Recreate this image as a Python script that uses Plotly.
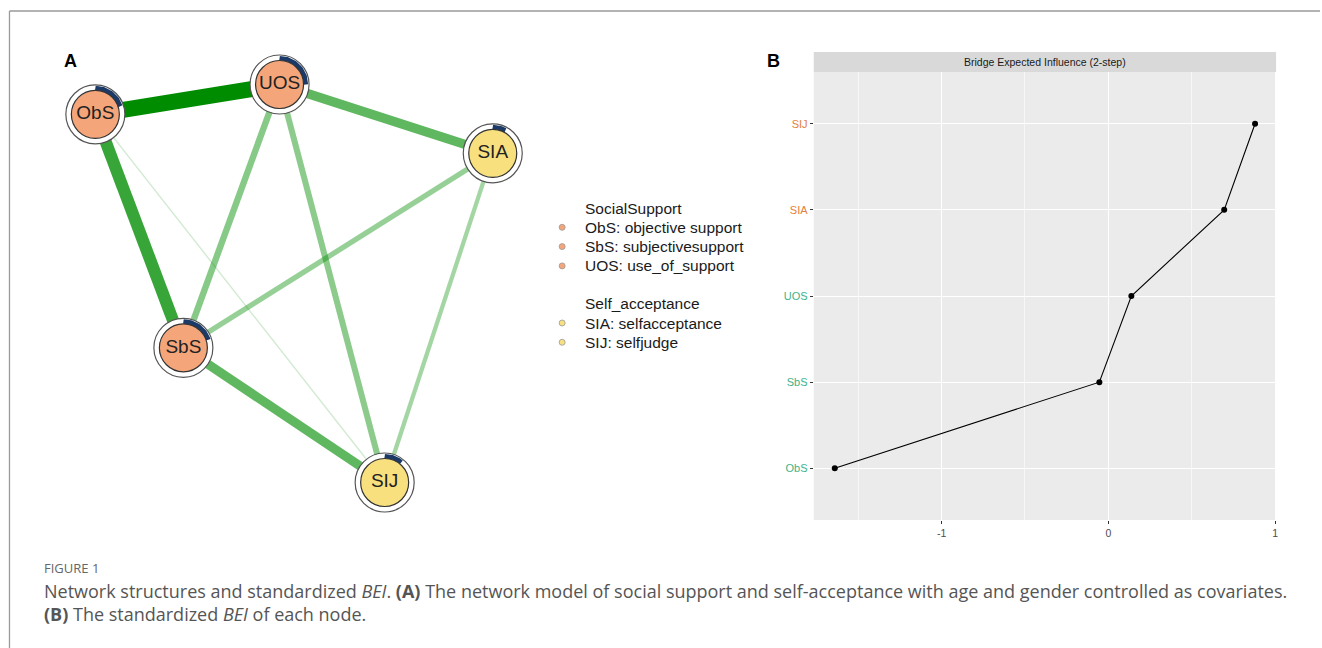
import numpy as np
import plotly.graph_objects as go

# ---------------- data ----------------
node_names = ["ObS", "UOS", "SIA", "SbS", "SIJ"]
node_group = ["SocialSupport", "SocialSupport", "Self_acceptance", "SocialSupport", "Self_acceptance"]
# network layout coordinates (qgraph-style, -1..1)
layout_x = [-1.0, -0.073, 1.0, -0.557, 0.456]
layout_y = [0.850, 1.0, 0.654, -0.323, -1.0]
# predictability pies
pie_values = [0.20, 0.25, 0.08, 0.20, 0.11]

edge_from = ["ObS", "ObS", "UOS", "SbS", "UOS", "UOS", "SIA", "SIA", "ObS"]
edge_to = ["UOS", "SbS", "SIA", "SIJ", "SbS", "SIJ", "SbS", "SIJ", "SIJ"]
edge_weight = [0.45, 0.34, 0.26, 0.26, 0.18, 0.17, 0.15, 0.12, 0.03]

legend_groups = ["SocialSupport", "Self_acceptance"]
legend_items = {
    "SocialSupport": ["ObS: objective support", "SbS: subjectivesupport", "UOS: use_of_support"],
    "Self_acceptance": ["SIA: selfacceptance", "SIJ: selfjudge"],
}

bei_nodes = ["ObS", "SbS", "UOS", "SIA", "SIJ"]
bei_values = [-1.641, -0.054, 0.138, 0.695, 0.880]
bei_label_group = ["SocialSupport", "SocialSupport", "SocialSupport", "Self_acceptance", "Self_acceptance"]
x_ticks = [-1, 0, 1]

# ---------------- styles ----------------
W, H = 1322, 648
group_fill = {"SocialSupport": "#F4A67A", "Self_acceptance": "#F8E07F"}
label_color = {"SocialSupport": "#3DB38A", "Self_acceptance": "#E57E3A"}
PX = 199.0  # pixels per layout unit
cx_px, cy_px = 294.5, 283.5
rng = 1.35

def px2paper_x(p):
    return p / W

def px2paper_y(p):
    return 1 - p / H

fig = go.Figure()

# ---------------- panel A: network ----------------
idx = {n: i for i, n in enumerate(node_names)}
wmax = max(edge_weight)
order = np.argsort(edge_weight)
for k in order:
    a, b, w = idx[edge_from[k]], idx[edge_to[k]], edge_weight[k]
    r = w / wmax
    alpha = 0.12 + 0.88 * r
    width = max(1.4, 16 * r)
    fig.add_trace(go.Scatter(
        x=[layout_x[a], layout_x[b]], y=[layout_y[a], layout_y[b]],
        mode="lines", line=dict(color=f"rgba(0,140,0,{alpha:.3f})", width=width),
        hoverinfo="skip", showlegend=False, xaxis="x", yaxis="y"))

# outer rings
fig.add_trace(go.Scatter(
    x=layout_x, y=layout_y, mode="markers",
    marker=dict(size=59, color="white", line=dict(color="#555555", width=1.2)),
    hoverinfo="skip", showlegend=False, xaxis="x", yaxis="y"))

# pie arcs
r_arc = 26.3 / PX
for i, n in enumerate(node_names):
    t = np.linspace(0, 2 * np.pi * pie_values[i], 60)
    fig.add_trace(go.Scatter(
        x=layout_x[i] + r_arc * np.sin(t), y=layout_y[i] + r_arc * np.cos(t),
        mode="lines", line=dict(color="#1C3A68", width=4.6),
        hoverinfo="skip", showlegend=False, xaxis="x", yaxis="y"))

# inner circles
fig.add_trace(go.Scatter(
    x=layout_x, y=layout_y, mode="markers+text",
    marker=dict(size=48, color=[group_fill[g] for g in node_group],
                line=dict(color="#333333", width=1.2)),
    text=node_names, textposition="middle center",
    textfont=dict(family="Liberation Sans, Arial", size=19, color="#222222"),
    hoverinfo="skip", showlegend=False, xaxis="x", yaxis="y"))

# ---------------- panel B: BEI ----------------
fig.add_trace(go.Scatter(
    x=bei_values, y=bei_nodes, mode="lines+markers",
    line=dict(color="black", width=1.1),
    marker=dict(color="black", size=6),
    hoverinfo="skip", showlegend=False, xaxis="x2", yaxis="y2"))

xA0 = cx_px - rng * PX
xA1 = cx_px + rng * PX
yA0 = cy_px - rng * PX
yA1 = cy_px + rng * PX

bx0, bx1 = 815, 1278
by0, by1 = 72, 520
dx = max(bei_values) - min(bei_values)
xr = [min(bei_values) - 0.05 * dx, max(bei_values) + 0.05 * dx]

shapes = []
# figure frame lines
shapes.append(dict(type="line", xref="paper", yref="paper", x0=px2paper_x(9.5), x1=1,
                   y0=px2paper_y(11), y1=px2paper_y(11), line=dict(color="#9a9a9a", width=1.3)))
shapes.append(dict(type="line", xref="paper", yref="paper", x0=px2paper_x(9.5), x1=px2paper_x(9.5),
                   y0=0, y1=px2paper_y(11), line=dict(color="#9a9a9a", width=1.3)))
# panel B background
shapes.append(dict(type="rect", xref="x2 domain", yref="y2 domain", x0=0, x1=1, y0=0, y1=1,
                   fillcolor="#EBEBEB", line=dict(width=0), layer="below"))
# strip
shapes.append(dict(type="rect", xref="paper", yref="paper", x0=px2paper_x(bx0), x1=px2paper_x(bx1),
                   y0=px2paper_y(by0), y1=px2paper_y(52), fillcolor="#D9D9D9", line=dict(width=0)))

annotations = []
annotations.append(dict(text="<b>A</b>", x=px2paper_x(62), y=px2paper_y(61), xref="paper", yref="paper",
                        xanchor="left", yanchor="middle", showarrow=False,
                        font=dict(family="Liberation Sans, Arial", size=18, color="black")))
annotations.append(dict(text="<b>B</b>", x=px2paper_x(766), y=px2paper_y(61), xref="paper", yref="paper",
                        xanchor="left", yanchor="middle", showarrow=False,
                        font=dict(family="Liberation Sans, Arial", size=18, color="black")))
annotations.append(dict(text="Bridge Expected Influence (2-step)", x=px2paper_x((bx0 + bx1) / 2),
                        y=px2paper_y(61.5), xref="paper", yref="paper", xanchor="center", yanchor="middle",
                        showarrow=False, font=dict(family="Liberation Sans, Arial", size=10.5, color="#1A1A1A")))

# legend for panel A
ly = 208
for g in legend_groups:
    annotations.append(dict(text=g, x=px2paper_x(584), y=px2paper_y(ly), xref="paper", yref="paper",
                            xanchor="left", yanchor="middle", showarrow=False,
                            font=dict(family="Liberation Sans, Arial", size=15.5, color="#1A1A1A")))
    ly += 19.3
    for item in legend_items[g]:
        annotations.append(dict(text=item, x=px2paper_x(584), y=px2paper_y(ly), xref="paper", yref="paper",
                                xanchor="left", yanchor="middle", showarrow=False,
                                font=dict(family="Liberation Sans, Arial", size=15.5, color="#1A1A1A")))
        shapes.append(dict(type="circle", xref="paper", yref="paper",
                           x0=px2paper_x(560), x1=px2paper_x(566),
                           y0=px2paper_y(ly - 3), y1=px2paper_y(ly + 3),
                           fillcolor=group_fill[g], line=dict(color="#999999", width=0.8)))
        ly += 19.3
    ly += 18.5

# caption
annotations.append(dict(text="FIGURE 1", x=px2paper_x(42), y=px2paper_y(568), xref="paper", yref="paper",
                        xanchor="left", yanchor="middle", showarrow=False,
                        font=dict(family="Open Sans", size=13, color="#666666")))
annotations.append(dict(
    text="Network structures and standardized <i>BEI</i>. <b>(A)</b> The network model of social support and "
         "self-acceptance with age and gender controlled as covariates.",
    x=px2paper_x(42), y=px2paper_y(591), xref="paper", yref="paper", xanchor="left", yanchor="middle",
    showarrow=False, font=dict(family="Open Sans", size=18, color="#555555")))
annotations.append(dict(
    text="<b>(B)</b> The standardized <i>BEI</i> of each node.",
    x=px2paper_x(42), y=px2paper_y(614), xref="paper", yref="paper", xanchor="left", yanchor="middle",
    showarrow=False, font=dict(family="Open Sans", size=18, color="#555555")))

ticktext = [f"<span style='color:{label_color[g]}'>{n}</span>" for n, g in zip(bei_nodes, bei_label_group)]

fig.update_layout(
    width=W, height=H, autosize=False,
    margin=dict(l=0, r=0, t=0, b=0),
    paper_bgcolor="white", plot_bgcolor="rgba(0,0,0,0)",
    showlegend=False,
    xaxis=dict(domain=[px2paper_x(xA0), px2paper_x(xA1)], range=[-rng, rng],
               visible=False, fixedrange=True),
    yaxis=dict(domain=[px2paper_y(yA1), px2paper_y(yA0)], range=[-rng, rng],
               visible=False, fixedrange=True),
    xaxis2=dict(domain=[px2paper_x(bx0), px2paper_x(bx1)], range=xr, anchor="y2",
                tickvals=x_ticks, ticktext=[str(v) for v in x_ticks],
                showgrid=True, gridcolor="white", gridwidth=1.3, zeroline=False,
                ticks="outside", ticklen=3, tickcolor="#333333", tickwidth=1,
                tickfont=dict(family="Liberation Sans, Arial", size=10.5, color="#4D4D4D"),
                minor=dict(tickvals=[-1.5, -0.5, 0.5], showgrid=True, gridcolor="#F7F7F7", gridwidth=0.7,
                           ticks=""),
                showline=False),
    yaxis2=dict(domain=[px2paper_y(by1), px2paper_y(by0)], anchor="x2",
                type="category", categoryorder="array", categoryarray=bei_nodes,
                range=[-0.6, len(bei_nodes) - 0.4],
                tickvals=bei_nodes, ticktext=ticktext,
                showgrid=True, gridcolor="white", gridwidth=1.3, zeroline=False,
                ticks="outside", ticklen=3, tickcolor="#333333", tickwidth=1,
                tickfont=dict(family="Liberation Sans, Arial", size=11),
                showline=False),
    shapes=shapes, annotations=annotations,
)

fig.write_html("out.html", post_script="document.body.style.margin='0';",
               config={"displayModeBar": False})
